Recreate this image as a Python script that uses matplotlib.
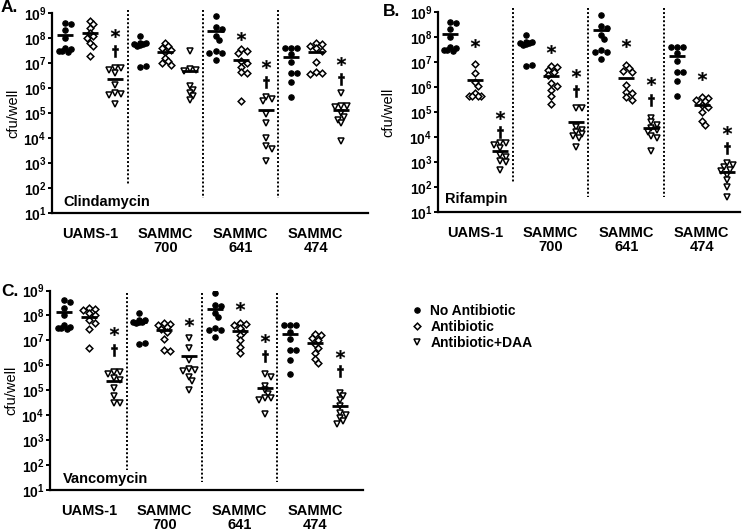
import numpy as np
import matplotlib
matplotlib.use("Agg")
import matplotlib.pyplot as plt
from matplotlib.lines import Line2D

plt.rcParams["font.family"] = ["Liberation Sans", "DejaVu Sans"]
plt.rcParams["font.weight"] = "bold"

# -----------------------------
# data (log10 cfu/well)
# -----------------------------
strains = ["UAMS-1", "SAMMC\n700", "SAMMC\n641", "SAMMC\n474"]
conditions = ["No Antibiotic", "Antibiotic", "Antibiotic+DAA"]
antibiotics = ["Clindamycin", "Rifampin", "Vancomycin"]

no_abx = [
    [8.6, 8.55, 8.3, 8.0, 7.6, 7.55, 7.5, 7.45, 7.5],
    [8.1, 7.8, 7.8, 7.75, 7.75, 7.7, 7.72, 6.85, 6.9],
    [8.88, 8.43, 8.37, 8.1, 7.93, 7.5, 7.42, 7.4, 7.13],
    [7.62, 7.62, 7.6, 7.35, 7.05, 6.62, 6.6, 6.23, 5.65],
]
no_abx_mean = [8.13, 7.75, 8.27, 7.25]

clin_abx = [
    [8.7, 8.55, 8.4, 8.2, 8.07, 8.0, 7.8, 7.67, 7.27],
    [7.8, 7.67, 7.6, 7.53, 7.43, 7.2, 7.07, 7.0, 6.93],
    [7.55, 7.48, 7.4, 7.1, 7.0, 6.85, 6.65, 6.62, 5.5],
    [7.8, 7.75, 7.68, 7.6, 7.5, 7.05, 6.65, 6.6, 6.55],
]
clin_abx_mean = [8.2, 7.45, 7.13, 7.45]
clin_daa = [
    [6.81, 6.79, 6.72, 6.59, 6.12, 5.79, 5.75, 5.72, 5.36],
    [7.48, 6.76, 6.73, 6.7, 6.09, 5.93, 5.8, 5.67, 5.53],
    [5.65, 5.58, 5.48, 4.95, 4.6, 4.0, 3.67, 3.55, 3.08],
    [5.8, 5.3, 5.28, 5.25, 5.0, 4.85, 4.73, 4.6, 3.88],
]
clin_daa_mean = [6.36, 6.7, 5.13, 5.13]

rif_abx = [
    [6.93, 6.55, 6.2, 6.05, 5.75, 5.65, 5.63, 5.63, 5.65],
    [6.85, 6.8, 6.7, 6.6, 6.5, 6.15, 6.05, 5.9, 5.65, 5.32],
    [6.88, 6.75, 6.65, 6.6, 6.1, 5.82, 5.76, 5.6, 5.5],
    [5.62, 5.58, 5.5, 5.45, 5.3, 5.2, 5.0, 4.65, 4.5],
]
rif_abx_mean = [6.27, 6.45, 6.38, 5.3]
rif_daa = [
    [3.78, 3.75, 3.7, 3.55, 3.3, 3.2, 3.05, 3.0, 2.68],
    [5.18, 5.15, 4.42, 4.3, 4.2, 4.12, 4.05, 3.95, 3.62],
    [4.78, 4.6, 4.5, 4.35, 4.3, 4.2, 4.05, 3.95, 3.45],
    [2.95, 2.9, 2.8, 2.7, 2.65, 2.5, 2.3, 2.0, 1.62],
]
rif_daa_mean = [3.43, 4.6, 4.36, 2.6]

van_abx = [
    [8.28, 8.25, 8.22, 8.1, 8.0, 7.82, 7.7, 7.45, 6.7],
    [7.7, 7.65, 7.6, 7.55, 7.45, 7.35, 7.05, 6.62, 6.58],
    [7.7, 7.65, 7.6, 7.5, 7.35, 7.2, 7.0, 6.75, 6.5],
    [7.25, 7.2, 7.1, 7.0, 6.85, 6.7, 6.5, 6.25, 6.1],
]
van_abx_mean = [7.95, 7.43, 7.36, 6.89]
van_daa = [
    [5.75, 5.72, 5.65, 5.5, 5.4, 5.1, 4.75, 4.5, 4.48],
    [7.1, 6.68, 6.2, 5.85, 5.82, 5.78, 5.55, 5.38, 5.03],
    [5.65, 5.55, 5.18, 5.0, 4.85, 4.7, 4.68, 4.62, 4.05],
    [4.88, 4.75, 4.6, 4.35, 4.1, 4.0, 3.9, 3.75, 3.65],
]
van_daa_mean = [5.36, 6.36, 5.09, 4.36]

# significance marks: (column, symbol, log10 height)
clin_marks = [(2, "*", 8.2), (2, "†", 7.47), (7, "*", 8.09), (8, "*", 6.97),
              (8, "†", 6.23), (11, "*", 7.07), (11, "†", 6.36)]
rif_marks = [(1, "*", 7.76), (2, "*", 4.89), (2, "†", 4.19), (4, "*", 7.52),
             (5, "*", 6.56), (5, "†", 5.83), (7, "*", 7.76), (8, "*", 6.23),
             (8, "†", 5.49), (10, "*", 6.43), (11, "*", 4.29), (11, "†", 3.56)]
van_marks = [(2, "*", 7.36), (2, "†", 6.63), (5, "*", 7.72), (7, "*", 8.39),
             (8, "*", 7.09), (8, "†", 6.39), (11, "*", 6.47), (11, "†", 5.76)]

panel_data = [
    (clin_abx, clin_abx_mean, clin_daa, clin_daa_mean, clin_marks),
    (rif_abx, rif_abx_mean, rif_daa, rif_daa_mean, rif_marks),
    (van_abx, van_abx_mean, van_daa, van_daa_mean, van_marks),
]

# -----------------------------
# layout (pixels of a 742x531 figure)
# -----------------------------
W, H = 742, 531
layout = [
    dict(l=52, r=368, t=13, b=213, xlim=(-0.52, 12.08), letter=(1, 8),
         ylab=-0.101, name=(0.035, 0.055), sep=[(9.12, 2.12), (9.12, 1.6), (9.12, 1.6)]),
    dict(l=438, r=740, t=12, b=212, xlim=(-0.48, 11.52), letter=(383, 12),
         ylab=-0.142, name=(0.023, 0.065), sep=[(9.17, 2.15), (9.17, 1.6), (9.17, 1.6)]),
    dict(l=50, r=363, t=290.5, b=490, xlim=(-0.56, 11.92), letter=(1, 292),
         ylab=-0.102, name=(0.042, 0.055), sep=[(8.9, 1.82), (8.9, 1.31), (8.9, 1.31)]),
]

marker_style = [
    dict(marker="o", ms=3.9, mfc="black", mec="black", mew=0.8),
    dict(marker="D", ms=3.4, mfc="white", mec="black", mew=1.1),
    dict(marker="v", ms=4.4, mfc="white", mec="black", mew=1.1),
]


def swarm(vals, step=0.12, min_d=0.17):
    placed, offs = [], []
    for v in vals:
        best, bestd = 0.0, -1
        for k in [0, 1, -1, 2, -2]:
            dx = k * step
            d = min([np.hypot(dx - px, v - py) for px, py in placed], default=9)
            if d >= min_d:
                best = dx
                break
            if d > bestd:
                best, bestd = dx, d
        placed.append((best, v))
        offs.append(best)
    return offs


fig = plt.figure(figsize=(W / 100, H / 100), dpi=100)

for p, (abx, abx_mean, daa, daa_mean, marks) in enumerate(panel_data):
    L = layout[p]
    ax = fig.add_axes([L["l"] / W, 1 - L["b"] / H, (L["r"] - L["l"]) / W, (L["b"] - L["t"]) / H])
    ax.set_yscale("log")
    ax.set_ylim(10, 1e9)
    ax.set_xlim(*L["xlim"])

    groups = [no_abx, abx, daa]
    means = [no_abx_mean, abx_mean, daa_mean]
    for s in range(len(strains)):
        for c in range(3):
            x0 = 3 * s + c
            vals = groups[c][s]
            offs = swarm(vals)
            ax.plot(x0 + np.array(offs), 10 ** np.array(vals), ls="none",
                    zorder=3, **marker_style[c])
            ax.hlines(10 ** means[c][s], x0 - 0.32, x0 + 0.32, color="black", lw=2, zorder=4)

    for (top, bot), xs in zip(L["sep"], [2.5, 5.5, 8.5]):
        ax.plot([xs, xs], [10 ** top, 10 ** bot], color="black", lw=1.4,
                ls=(0, (1, 1.1)), clip_on=False)

    for col, sym, yv in marks:
        if sym == "*":
            ax.plot(col, 10 ** yv, marker="$*$", ms=6.5, color="black", mew=0.2)
        else:
            ax.plot(col, 10 ** yv, marker=r"$\dagger$", ms=8, color="black", mew=0.4)

    ax.spines[["top", "right"]].set_visible(False)
    for sp in ["left", "bottom"]:
        ax.spines[sp].set_linewidth(1.6)
    ax.set_yticks([10 ** k for k in range(1, 10)])
    ax.yaxis.set_minor_locator(matplotlib.ticker.NullLocator())
    ax.tick_params(axis="y", length=3, width=1.4, pad=1, labelsize=10)
    ax.set_xticks([1, 4, 7, 10])
    ax.set_xticklabels(strains, fontsize=10.5, fontweight="bold", linespacing=1.05)
    ax.tick_params(axis="x", length=0, pad=10)
    ax.set_ylabel("cfu/well", fontsize=10.5, fontweight="normal")
    ax.yaxis.set_label_coords(L["ylab"], 0.5)
    ax.text(L["name"][0], L["name"][1], antibiotics[p], transform=ax.transAxes,
            fontsize=10.5, fontweight="bold", va="center", ha="left")
    fig.text(L["letter"][0] / W, 1 - L["letter"][1] / H, "ABC"[p] + ".",
             fontsize=12.5, fontweight="bold", va="center", ha="left")

handles = [Line2D([], [], ls="none", **st) for st in marker_style]
fig.legend(handles, conditions, loc="upper left", bbox_to_anchor=(411 / W, 1 - 304 / H),
           frameon=False, handlelength=0.8, handletextpad=0.6, borderpad=0,
           borderaxespad=0, labelspacing=0.15, prop=dict(size=10, weight="bold"))

fig.savefig("out.png", dpi=100)
